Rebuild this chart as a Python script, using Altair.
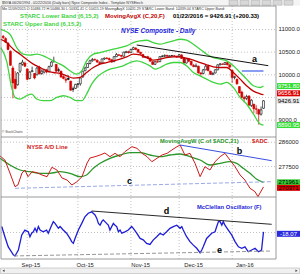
import altair as alt
import pandas as pd

FONT = "Liberation Sans"

# ---------------- data (trading-day index 0 = Aug 18 2015 ... 108 = Jan 22 2016) ----------------
opens = [10850, 10800, 10700, 10520, 10150, 9900, 9780, 10080, 10230, 10260,
         10130, 9920, 10070, 10030, 10000, 10170, 10030, 10060, 10110, 10070, 10190, 10290, 10230, 10110, 10080, 9960, 9900, 9920, 9860, 9690, 9700,
         9790, 9800, 9950, 10090, 10160, 10250, 10310, 10340, 10320, 10270, 10260, 10350, 10370, 10360, 10330, 10290, 10400, 10440, 10430, 10410, 10490, 10510,
         10490, 10560, 10590, 10560, 10500, 10450, 10380, 10400, 10370, 10290, 10230, 10290, 10290, 10400, 10410, 10430, 10400, 10420, 10420, 10410,
         10400, 10440, 10370, 10260, 10350, 10300, 10210, 10180, 10190, 10040, 10030, 10110, 10190, 10080, 10010, 10040, 10110, 10220, 10240, 10230, 10270, 10220,
         10100, 9940, 9900, 9740, 9620, 9500, 9480, 9530, 9320, 9350, 9250, 9230, 9130, 9260]
highs = [10880, 10830, 10720, 10540, 10200, 10080, 10060, 10270, 10330, 10290,
         10140, 10080, 10180, 10040, 10170, 10200, 10120, 10130, 10130, 10200, 10300, 10400, 10240, 10160, 10090, 9990, 9960, 9990, 9870, 9740, 9800,
         9820, 9940, 10090, 10180, 10260, 10330, 10370, 10360, 10340, 10300, 10360, 10380, 10390, 10380, 10350, 10410, 10480, 10460, 10440, 10510, 10530, 10530,
         10570, 10620, 10610, 10570, 10500, 10460, 10410, 10420, 10380, 10300, 10300, 10340, 10410, 10440, 10450, 10440, 10430, 10440, 10440, 10420,
         10460, 10450, 10390, 10370, 10360, 10300, 10240, 10250, 10200, 10060, 10130, 10230, 10220, 10090, 10060, 10120, 10230, 10260, 10250, 10280, 10280, 10230,
         10110, 9980, 9920, 9750, 9650, 9540, 9560, 9550, 9460, 9360, 9330, 9250, 9300, 9440]
lows = [10790, 10700, 10540, 10200, 9480, 9680, 9760, 10040, 10200, 10170,
        9880, 9900, 10060, 9900, 9990, 10010, 10000, 10030, 10030, 10050, 10170, 10270, 10060, 10060, 9940, 9900, 9820, 9880, 9650, 9620, 9690,
        9720, 9760, 9940, 10080, 10150, 10230, 10290, 10310, 10270, 10230, 10250, 10330, 10340, 10310, 10270, 10280, 10390, 10420, 10380, 10400, 10480, 10470,
        10480, 10550, 10540, 10480, 10440, 10370, 10370, 10350, 10290, 10220, 10220, 10270, 10280, 10390, 10390, 10390, 10390, 10400, 10400, 10380,
        10390, 10350, 10250, 10250, 10280, 10200, 10170, 10170, 10030, 9970, 10010, 10100, 10080, 10000, 9990, 10030, 10100, 10210, 10220, 10220, 10210, 10150,
        9820, 9900, 9780, 9590, 9480, 9390, 9440, 9320, 9290, 9150, 9130, 8900, 9100, 9250]
closes = [10820, 10720, 10560, 10210, 9820, 9700, 10040, 10250, 10280, 10190,
          9900, 10060, 10090, 9930, 10150, 10020, 10080, 10120, 10060, 10180, 10280, 10300, 10080, 10100, 9950, 9920, 9880, 9900, 9660, 9680, 9790,
          9800, 9930, 10080, 10150, 10250, 10310, 10340, 10330, 10280, 10250, 10350, 10370, 10360, 10330, 10280, 10400, 10450, 10430, 10410, 10500, 10510, 10490,
          10560, 10600, 10560, 10500, 10470, 10390, 10400, 10370, 10300, 10230, 10290, 10280, 10400, 10410, 10430, 10410, 10420, 10420, 10410, 10390,
          10440, 10360, 10260, 10350, 10300, 10220, 10180, 10200, 10040, 10020, 10110, 10190, 10090, 10010, 10030, 10110, 10220, 10240, 10230, 10270, 10220, 10170,
          9940, 9960, 9800, 9600, 9500, 9470, 9520, 9330, 9440, 9250, 9240, 9130, 9226.58, 9426.91]

upper_i = [-1.0, 2.8, 5.6, 8.4, 11.1, 13.9, 16.6, 19.4, 22.2, 25.0, 27.7, 30.5, 32.6, 34.6, 37.4, 40.2, 42.9, 45.7, 48.5, 51.2, 54.0,
           56.8, 59.5, 62.3, 65.1, 67.8, 70.6, 73.4, 76.1, 78.9, 81.7, 84.4, 87.2, 90.0, 92.7, 95.5, 98.3, 101.0, 103.8, 106.6, 108]
upper_v = [11005, 10895, 10601, 10455, 10433, 10455, 10418, 10345, 10271, 10198, 10088, 10015, 10088, 10308, 10455, 10491, 10528, 10565, 10601, 10638, 10711,
           10748, 10763, 10711, 10675, 10711, 10748, 10785, 10763, 10675, 10565, 10455, 10381, 10345, 10308, 10198, 10051, 9905, 9758, 9720, 9751.80]
lower_i = [-1.0, 1.4, 3.5, 4.9, 7.0, 9.7, 11.8, 13.9, 16.6, 19.4, 22.2, 25.0, 27.7, 30.5, 32.6, 34.6, 36.7, 38.8, 41.5, 44.3, 47.1, 49.8,
           52.6, 55.4, 58.1, 60.9, 63.0, 65.1, 67.8, 70.6, 73.4, 76.1, 78.9, 81.7, 84.4, 87.2, 90.0, 92.7, 95.5, 98.3, 101.0, 103.8, 106.6, 108]
lower_v = [10601, 10308, 9721, 9501, 9465, 9538, 9575, 9465, 9428, 9428, 9501, 9538, 9501, 9428, 9428, 9575, 9795, 9941, 10051, 10125, 10161, 10198,
           10271, 10308, 10271, 10198, 10125, 10161, 10235, 10271, 10271, 10198, 10051, 9978, 9905, 9831, 9795, 9831, 9721, 9501, 9355, 9135, 8915, 8890.95]
ma_i = [-1.0, 1.4, 4.2, 7.0, 9.7, 12.5, 15.3, 18.0, 20.8, 23.6, 26.3, 29.1, 31.9, 34.6, 37.4, 40.2, 42.9, 45.7, 48.5, 51.2, 54.0,
        56.8, 59.5, 62.3, 65.1, 67.8, 70.6, 73.4, 76.1, 78.9, 81.7, 84.4, 87.2, 90.0, 92.7, 95.5, 98.3, 101.0, 103.8, 106.6, 108]
ma_v = [10785, 10711, 10565, 10455, 10345, 10235, 10161, 10088, 10051, 10029, 9978, 9927, 9941, 10051, 10161, 10235, 10271, 10308, 10345, 10396, 10455,
        10440, 10381, 10323, 10345, 10381, 10396, 10396, 10367, 10323, 10271, 10220, 10176, 10161, 10161, 10051, 9905, 9758, 9640, 9580, 9560]

ad_i = [-1.3, 0.7, 2.8, 4.9, 6.1, 7.8, 9.0, 10.3, 12.0, 14.0, 16.1, 18.2, 20.2, 22.3, 24.4, 26.5, 28.5, 30.6, 32.7, 34.8, 36.0, 38.1,
        40.2, 42.2, 44.3, 46.4, 48.5, 50.5, 53.4, 55.5, 57.6, 59.7, 61.7, 63.8, 65.9, 68.0, 70.0, 72.1, 73.4, 75.4, 77.5, 79.6,
        81.7, 83.7, 85.8, 87.9, 90.0, 92.0, 94.1, 96.2, 98.3, 100.3, 102.4, 104.5, 105.7, 108]
ad_v = [281175, 279775, 275225, 270430, 271025, 275225, 276275, 273930, 275680, 275330, 274525, 273930, 277220, 276275, 273475, 272775, 271025, 272180, 273930, 278725, 280475, 280930,
        281525, 282225, 280930, 282120, 280930, 282680, 284430, 283870, 282120, 280930, 279180, 280370, 281525, 282120, 283275, 284430, 285025, 281525, 282120, 278620,
        273930, 277430, 276275, 279180, 280930, 282120, 279775, 277430, 274525, 272775, 269870, 268680, 266930, 270371]
adma_i = [-1.3, 2.8, 7.0, 11.1, 15.3, 19.4, 23.6, 27.7, 31.9, 34.6, 37.4, 40.2, 44.3, 48.5, 52.6, 56.8, 60.9, 65.1, 69.2, 73.4,
          77.5, 81.7, 85.8, 90.0, 94.1, 96.9, 99.6, 102.4, 105.2, 108]
adma_v = [280370, 278025, 276275, 275680, 275120, 275120, 275680, 275120, 273930, 274525, 276870, 278620, 280370, 281525, 282330, 282330, 281525, 280930, 281525, 281875,
          280930, 279775, 278025, 278620, 279180, 278620, 276870, 275120, 273020, 271961]

mc_i = [-0.6, 0.7, 2.1, 4.2, 4.9, 6.3, 7.7, 9.0, 10.4, 11.1, 11.8, 12.5, 13.2, 13.9, 14.6, 15.3, 16.6, 18.0, 18.7, 20.1, 20.8, 21.5, 22.9, 23.6,
        24.9, 26.3, 27.7, 28.4, 29.1, 29.8, 31.2, 32.6, 33.9, 35.3, 36.7, 38.1, 38.8, 39.5, 40.2, 40.9, 41.5, 42.2, 42.9, 43.6, 44.3, 45.7, 46.4,
        47.1, 47.8, 48.5, 49.2, 50.5, 51.9, 53.3, 54.0, 55.4, 56.8, 58.1, 59.5, 60.9, 62.3, 63.7, 65.1, 66.4, 67.8, 69.2, 70.6, 72.0, 73.4, 74.1,
        74.7, 76.1, 77.5, 78.9, 80.3, 81.7, 82.4, 83.0, 84.4, 85.1, 86.5, 87.9, 88.6, 89.3, 90.0, 90.7, 91.3, 92.0, 93.4, 94.8, 96.2, 97.6, 99.0,
        100.3, 101.7, 103.1, 104.5, 105.9, 107.2, 108]
mc_v = [-3, -32, -61, -84, -87, -70, -27, -13, -18, -32, -22, -18, -8, -18, -3, -13, -18, -13, -22, 1, 11, 6, -8, -3,
        -13, -22, -37, -46, -51, -37, -13, 6, 25, 35, 39, 30, 21, 6, 1, 11, 16, 11, 6, 1, -13, 6, 1,
        -3, -18, -13, -22, -18, -13, -3, -8, -22, -37, -41, -51, -54, -41, -32, -22, -27, -18, -8, -3, 1, -8, -3,
        -13, -32, -46, -56, -65, -78, -70, -61, -37, -32, -22, -18, -3, 11, 11, 1, 11, 1, -13, -27, -46, -61, -65,
        -61, -75, -70, -65, -75, -70, -18.07]

# trend lines (index, value)
line_a_i, line_a_v = [55.4, 110.0], [10658, 10201]
line_h_i, line_h_v = [99.0, 108.0], [10084, 10084]
line_b_i, line_b_v = [73.4, 111.4], [285025, 279530]
line_c_i, line_c_v = [4.9, 111.4], [269870, 272180]
line_d_i, line_d_v = [36.7, 111.4], [41.4, 3.4]
line_e_i, line_e_v = [4.5, 111.4], [-87, -72.9]

month_start_idx = [10, 31, 53, 73, 95]
month_label_idx = [11.5, 34, 57, 79, 100.3]
month_labels = ["Sep-15", "Oct-15", "Nov-15", "Dec-15", "Jan-16"]

price_grid = [11000, 10500, 10000, 9500, 9000]
price_ticks = [11000, 10500, 10000, 9000]
ad_ticks = [286000, 277500]
mc_grid = [-20]

# ---------------- scales ----------------
X = alt.Scale(domain=[-1.328, 123.15], nice=False, zero=False)
PY = alt.Scale(domain=[5602.6, 11651.2], nice=False, zero=False)
AY = alt.Scale(domain=[239875, 335775], nice=False, zero=False)
MY = alt.Scale(domain=[-138.57, 644.29], nice=False, zero=False)


def xq(f="i"):
    return alt.X(f + ":Q", scale=X, axis=None)


def yq(f, s):
    return alt.Y(f + ":Q", scale=s, axis=None)


def one(**kw):
    return pd.DataFrame({k: [v] for k, v in kw.items()} or {"a": [0]})


def label(txt, px, py, color="black", size=6, bold=True, italic=False, align="left", font=FONT):
    kw = dict(align=align, baseline="middle", font=font, fontSize=size, color=color,
              fontWeight="bold" if bold else "normal")
    if italic:
        kw["fontStyle"] = "italic"
    return alt.Chart(one(t=txt)).mark_text(**kw).encode(x=alt.value(px), y=alt.value(py), text="t:N")


def series(xs, vs, scale, color, width=1.2, dash=None, interp="linear"):
    kw = dict(color=color, strokeWidth=width, interpolate=interp)
    if dash:
        kw["strokeDash"] = dash
    return alt.Chart(pd.DataFrame({"i": xs, "v": vs})).mark_line(**kw).encode(x=xq("i"), y=yq("v", scale))


layers = []

# header
layers.append(alt.Chart(one(a=0)).mark_rect(fill="#f4f4f4").encode(
    x=alt.value(0), x2=alt.value(300), y=alt.value(0), y2=alt.value(5.5)))
layers.append(label("$NYA 06/26/1994 - 01/22/2016 (Daily bars)      Nyse Composite Index  - Template NYSEtech",
                    2, 2.6, color="#333", size=3.6, bold=False))
for bx in [229, 240, 251, 262, 273, 284]:
    layers.append(alt.Chart(one(a=0)).mark_rect(fill="#d8d8d8", stroke="#999", strokeWidth=0.4).encode(
        x=alt.value(bx), x2=alt.value(bx + 9), y=alt.value(0.3), y2=alt.value(5.2)))

# gridlines
layers.append(alt.Chart(pd.DataFrame({"i": month_start_idx})).mark_rule(
    color="#9a9a9a", strokeWidth=0.6, strokeDash=[1, 2]).encode(x=xq("i"), y=alt.value(6), y2=alt.value(259)))
layers.append(alt.Chart(pd.DataFrame({"v": price_grid})).mark_rule(
    color="#9a9a9a", strokeWidth=0.6, strokeDash=[1, 2]).encode(y=yq("v", PY), x=alt.value(1), x2=alt.value(276)))
layers.append(alt.Chart(pd.DataFrame({"v": ad_ticks})).mark_rule(
    color="#9a9a9a", strokeWidth=0.6, strokeDash=[1, 2]).encode(y=yq("v", AY), x=alt.value(1), x2=alt.value(276)))
layers.append(alt.Chart(pd.DataFrame({"v": mc_grid})).mark_rule(
    color="#9a9a9a", strokeWidth=0.6, strokeDash=[1, 2]).encode(y=yq("v", MY), x=alt.value(1), x2=alt.value(276)))

# header row 2 (inside frame)
layers.append(label("Mo 11/09/2015   O:10486.72   H:10486.30   L:10331.41   C:10415.19   MovingAvgX 10431.29   STARC Lower Band: 10339.04   STARC Upper Band:",
                    2, 9.3, color="#333", size=3.6, bold=False))

# candles
prev = [opens[0]] + closes[:-1]
cols = ["#d40000" if c < p else "#000000" for c, p in zip(closes, prev)]
fills = ["#ffffff" if c > o else col for c, o, col in zip(closes, opens, cols)]
cdf = pd.DataFrame({"i": list(range(len(closes))), "o": opens, "h": highs, "l": lows, "c": closes,
                    "col": cols, "fill": fills})
layers.append(alt.Chart(cdf).mark_rule(strokeWidth=0.7).encode(
    x=xq("i"), y=yq("l", PY), y2="h:Q", color=alt.Color("col:N", scale=None)))
layers.append(alt.Chart(cdf).transform_calculate(x1="datum.i - 0.4", x2="datum.i + 0.4").mark_rect(strokeWidth=0.6).encode(
    x=xq("x1"), x2="x2:Q", y=yq("o", PY), y2="c:Q",
    fill=alt.Fill("fill:N", scale=None), stroke=alt.Stroke("col:N", scale=None)))

# overlays
layers.append(series(upper_i, upper_v, PY, "#3fd43f", 1.3, interp="monotone"))
layers.append(series(lower_i, lower_v, PY, "#3fd43f", 1.3, interp="monotone"))
layers.append(series(ma_i, ma_v, PY, "#c00000", 1.3, interp="monotone"))
layers.append(series(line_a_i, line_a_v, PY, "#111111", 1.0))
layers.append(series(line_h_i, line_h_v, PY, "#3a5ee8", 1.2))

layers.append(series(adma_i, adma_v, AY, "#2a962a", 1.3, interp="monotone"))
layers.append(series(ad_i, ad_v, AY, "#d01818", 1.0))
layers.append(series(line_b_i, line_b_v, AY, "#3a4fe0", 1.0))
layers.append(series(line_c_i, line_c_v, AY, "#8f9ee8", 0.9, dash=[4, 2]))

layers.append(series(mc_i, mc_v, MY, "#1c1cd8", 1.3))
layers.append(series(line_d_i, line_d_v, MY, "#111111", 0.9))
layers.append(series(line_e_i, line_e_v, MY, "#8a8a8a", 0.9, dash=[4, 2]))

# frame and separators
layers.append(alt.Chart(one(a=0)).mark_rect(fill=None, stroke="#808080", strokeWidth=0.8).encode(
    x=alt.value(1), x2=alt.value(276), y=alt.value(6), y2=alt.value(259)))
for sy in [137, 197]:
    layers.append(alt.Chart(one(a=0)).mark_rule(color="#808080", strokeWidth=0.8).encode(
        x=alt.value(1), x2=alt.value(276), y=alt.value(sy)))

# right axis tick labels
layers.append(alt.Chart(pd.DataFrame({"v": price_ticks})).mark_text(
    align="left", baseline="middle", font=FONT, fontSize=6, color="#222").encode(
    x=alt.value(278.5), y=yq("v", PY), text=alt.Text("v:Q", format=".1f")))
layers.append(alt.Chart(pd.DataFrame({"v": ad_ticks})).mark_text(
    align="left", baseline="middle", font=FONT, fontSize=6, color="#222").encode(
    x=alt.value(278.5), y=yq("v", AY), text=alt.Text("v:Q", format="d")))

# value boxes
boxes = [
    (9751.80, "9751.80", PY, "#33dd33", "#ffffff", 0),
    (9656.91, "9656.91", PY, "#dd0000", "#ffffff", 3),
    (9426.91, "9426.91", PY, "#e8e8e8", "#000000", 0),
    (8890.95, "8890.95", PY, "#33dd33", "#ffffff", 0),
    (271961, "271961", AY, "#33cc33", "#000000", 0),
    (270371, "270371", AY, "#dd0000", "#000000", 1),
    (-18.07, "-18.07", MY, "#2a2ae0", "#ffffff", 2),
]
for v, t, s, bg, fg, nud in boxes:
    d = pd.DataFrame({"v": [v], "t": [t]})
    layers.append(alt.Chart(d).mark_tick(orient="horizontal", size=23, thickness=6, color=bg, opacity=1,
                                         yOffset=nud).encode(x=alt.value(288.5), y=yq("v", s)))
    layers.append(alt.Chart(d).mark_text(align="center", baseline="middle", font=FONT, fontSize=6,
                                         color=fg, dy=nud).encode(x=alt.value(288.5), y=yq("v", s), text="t:N"))

# legends / titles
layers.append(label("STARC Lower Band (6,15,2)", 20, 16, color="#3fd43f", size=6))
layers.append(label("MovingAvgX (C,20,F)", 105, 16, color="#c00000", size=6))
layers.append(label("01/22/2016 = 9426.91 (+200.33)", 173, 16, color="#000000", size=6))
layers.append(label("STARC Upper Band (6,15,2)", 3, 23.5, color="#3fd43f", size=6))
layers.append(label("NYSE Composite - Daily", 121, 31, color="#1c1cd8", size=6.5, italic=True))
layers.append(label("© StockCharts", 2, 132, color="#444", size=3.2, bold=False))

layers.append(label("NYSE A/D Line", 27, 147.3, color="#d01818", size=5.8))
layers.append(label("MovingAvgW (C of $ADC,21)", 160, 140.7, color="#2a962a", size=5.8))
layers.append(label("$ADC", 252, 140.7, color="#d01818", size=5.8))
layers.append(label("McClellan Oscillator (F)", 197, 207.3, color="#1c1cd8", size=5.8))

for t, px, py in [("a", 254.5, 58.5), ("b", 239.5, 150.5), ("c", 129.5, 180.5), ("d", 166.5, 211), ("e", 219.5, 249.5)]:
    layers.append(label(t, px, py, color="#000000", size=9, align="center"))

# month labels
layers.append(alt.Chart(pd.DataFrame({"i": month_label_idx, "t": month_labels})).mark_text(
    align="center", baseline="middle", font=FONT, fontSize=5.8, color="#222").encode(
    x=xq("i"), y=alt.value(265.3), text="t:N"))

# scrollbar
layers.append(alt.Chart(one(a=0)).mark_rect(fill="#f0f0f0", stroke="#b4b4b4", strokeWidth=0.6).encode(
    x=alt.value(0.5), x2=alt.value(299.5), y=alt.value(268), y2=alt.value(273.5)))
layers.append(alt.Chart(one(a=0)).mark_point(shape="triangle-left", size=6, filled=True, color="#444", opacity=1).encode(
    x=alt.value(3.5), y=alt.value(270.8)))
layers.append(alt.Chart(one(a=0)).mark_point(shape="triangle-right", size=6, filled=True, color="#444", opacity=1).encode(
    x=alt.value(296.5), y=alt.value(270.8)))

chart = alt.layer(*layers).resolve_scale(y="independent").properties(
    width=300, height=274, padding=0, autosize=alt.AutoSizeParams(type="none"), background="white"
).configure_view(stroke=None)

chart.save("out.html", embed_options={"renderer": "svg", "actions": False})
